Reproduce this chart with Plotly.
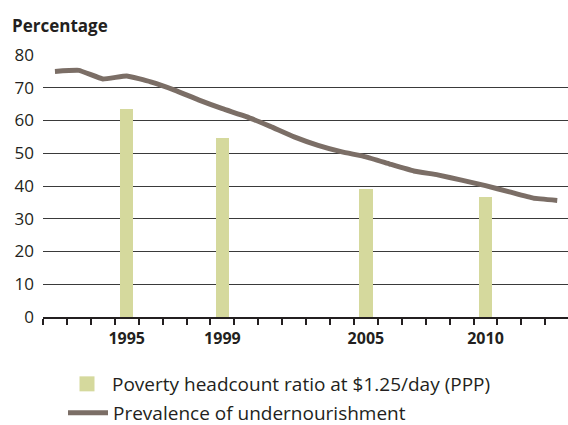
import plotly.graph_objects as go

years = list(range(1992, 2014))
undernourishment = [75.0, 75.3, 72.7, 73.6, 71.8, 69.3, 66.3, 63.6, 61.2, 58.2,
                    55.0, 52.4, 50.4, 48.9, 46.7, 44.6, 43.4, 41.8, 40.1, 38.2, 36.3, 35.6]
bar_years = [1995, 1999, 2005, 2010]
poverty = [63.4, 54.8, 39.0, 36.7]
tick_labels = ["1995", "1999", "2005", "2010"]

BAR_COLOR = "#d5d99d"
LINE_COLOR = "#7b6e66"
TEXT = "#231f20"
FONT = "Open Sans"

fig = go.Figure()
fig.add_trace(go.Bar(x=bar_years, y=poverty, width=0.56, marker_color=BAR_COLOR,
                     marker_line_width=0, showlegend=False, hoverinfo="skip"))
fig.add_trace(go.Scatter(x=years, y=undernourishment, mode="lines",
                         line=dict(color=LINE_COLOR, width=5, shape="spline", smoothing=0.3),
                         showlegend=False))
# legend entries
fig.add_trace(go.Scatter(x=[None], y=[None], mode="markers",
                         marker=dict(symbol="square", size=15, color=BAR_COLOR),
                         name="Poverty headcount ratio at $1.25/day (PPP)", legend="legend"))
fig.add_trace(go.Scatter(x=[None], y=[None], mode="lines",
                         line=dict(color=LINE_COLOR, width=5),
                         name="Prevalence of undernourishment", legend="legend2"))

fig.update_layout(
    width=568, height=425,
    margin=dict(l=43, r=0, t=55, b=108, autoexpand=False),
    paper_bgcolor="white", plot_bgcolor="white",
    font=dict(family=FONT, color=TEXT, size=16),
    bargap=0,
    title=dict(text="<b>Percentage</b>", xref="container", yref="container",
               x=12/568, y=1-26/425, xanchor="left", yanchor="middle",
               font=dict(size=17, family=FONT, color=TEXT)),
    xaxis=dict(range=[1991.5, 2013.45], tickmode="array", tickvals=bar_years,
               ticktext=tick_labels, ticks="outside", ticklen=6,
               tickcolor="rgba(0,0,0,0)", tickangle=0,
               tickfont=dict(size=16, family=FONT, color=TEXT, weight="bold"),
               showgrid=False, zeroline=False, showline=True, linecolor="#231f20", linewidth=2,
               minor=dict(tickmode="linear", tick0=1991.5, dtick=1, ticks="outside",
                          ticklen=6, tickwidth=2, tickcolor="#231f20", showgrid=False)),
    yaxis=dict(range=[0, 80], tickmode="linear", tick0=0, dtick=10,
               showgrid=True, gridcolor="#3a3a3a", gridwidth=1.3,
               zeroline=False, showline=False, ticks="", ticklabelstandoff=8,
               tickfont=dict(size=17, family=FONT, color=TEXT)),
    legend=dict(xref="container", yref="container", x=62/568, y=1-384/425,
                xanchor="left", yanchor="middle", bgcolor="rgba(0,0,0,0)",
                font=dict(size=19, family=FONT, color=TEXT), itemwidth=40),
    legend2=dict(xref="container", yref="container", x=63/568, y=1-413/425,
                 xanchor="left", yanchor="middle", bgcolor="rgba(0,0,0,0)",
                 font=dict(size=19, family=FONT, color=TEXT), itemwidth=40),
)

fig.write_html("out.html", config={"displayModeBar": False},
               post_script="document.body.style.margin='0px';")
